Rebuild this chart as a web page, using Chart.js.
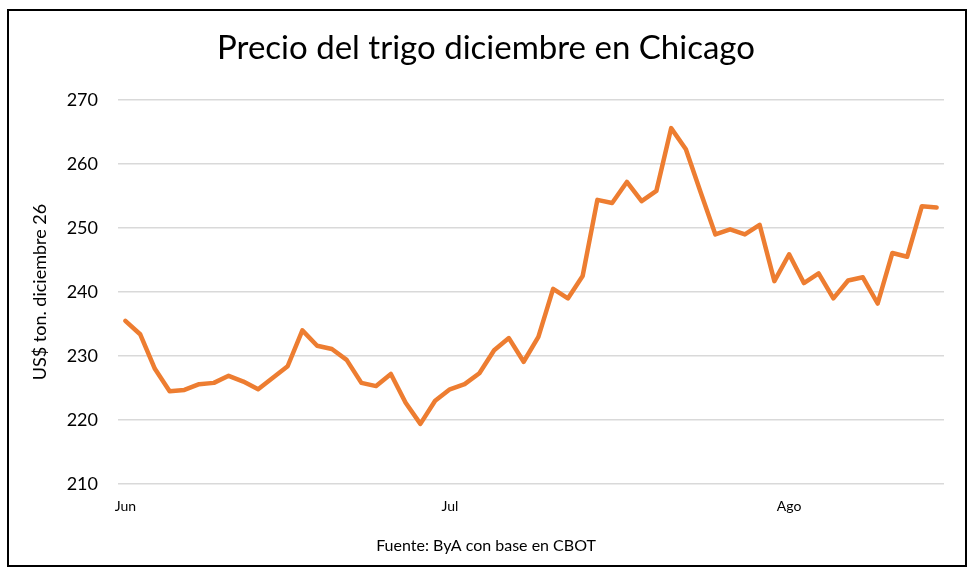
<!DOCTYPE html>
<html>
<head>
<meta charset="utf-8">
<script src="https://cdn.jsdelivr.net/npm/chart.js@4"></script>
<style>
  html, body { margin: 0; padding: 0; background: #fff; }
  canvas { display: block; }
</style>
</head>
<body>
<canvas id="chart" width="972" height="575"></canvas>
<script>
// precio diario, contrato diciembre 26 (US$/ton)
const prices = [
    235.5, 233.4, 228.0, 224.5, 224.7, 225.6, 225.8, 226.9, 226.0, 224.8,
    226.6, 228.4, 234.0, 231.6, 231.1, 229.4, 225.8, 225.3, 227.2, 222.7,
    219.4, 223.0, 224.8, 225.6, 227.3, 230.9, 232.8, 229.1, 233.0, 240.5,
    239.0, 242.5, 254.4, 253.9, 257.2, 254.2, 255.8, 265.6, 262.3, 255.6,
    249.0, 249.8, 249.0, 250.5, 241.7, 245.9, 241.4, 242.9, 239.0, 241.8,
    242.3, 238.2, 246.1, 245.5, 253.4, 253.2
];
const monthNames = ["Jun", "Jul", "Ago"];
const monthStart = [0, 22, 45];
const yMin = 210, yMax = 270, yStep = 10;

const labels = prices.map((_, i) => {
    const k = monthStart.indexOf(i);
    return k >= 0 ? monthNames[k] : "";
});

const FONT = "Lato, 'Noto Sans', sans-serif";

// marco negro alrededor del grafico
const frame = {
    id: "frame",
    afterDraw(chart) {
        const ctx = chart.ctx;
        ctx.save();
        ctx.strokeStyle = "#000";
        ctx.lineWidth = 2;
        ctx.strokeRect(8, 10, 958, 556);
        ctx.restore();
    }
};

new Chart(document.getElementById("chart"), {
    type: "line",
    data: {
        labels: labels,
        datasets: [{
            data: prices,
            borderColor: "#ED7D31",
            borderWidth: 4.5,
            borderJoinStyle: "round",
            borderCapStyle: "round",
            pointRadius: 0,
            tension: 0,
            fill: false
        }]
    },
    options: {
        responsive: false,
        animation: false,
        devicePixelRatio: 1,
        layout: { padding: { left: 28, right: 28, top: 0, bottom: 0 } },
        plugins: {
            legend: { display: false },
            tooltip: { enabled: false },
            title: {
                display: true,
                text: "Precio del trigo diciembre en Chicago",
                color: "#000",
                font: { family: FONT, size: 33, weight: "normal" },
                padding: { top: 29, bottom: 31.4 }
            },
            subtitle: {
                display: true,
                position: "bottom",
                text: "Fuente: ByA con base en CBOT",
                color: "#000",
                font: { family: FONT, size: 16, weight: "normal" },
                padding: { top: 12.4, bottom: 19.4 }
            }
        },
        scales: {
            x: {
                offset: true,
                grid: { display: false, drawTicks: false },
                border: { display: false },
                ticks: {
                    autoSkip: false,
                    maxRotation: 0,
                    padding: 14,
                    color: "#000",
                    font: { family: FONT, size: 14 }
                },
                afterFit: s => { s.height = 40; }
            },
            y: {
                min: yMin,
                max: yMax,
                grid: { color: "#d9d9d9", lineWidth: 1.5, drawTicks: false },
                border: { display: false },
                ticks: {
                    stepSize: yStep,
                    padding: 20,
                    color: "#000",
                    font: { family: FONT, size: 18 }
                },
                title: {
                    display: true,
                    text: "US$ ton. diciembre 26",
                    color: "#000",
                    font: { family: FONT, size: 18 },
                    padding: { top: 1, bottom: 0 }
                },
                afterFit: s => { s.width = 90; }
            }
        }
    },
    plugins: [frame]
});
</script>
</body>
</html>
